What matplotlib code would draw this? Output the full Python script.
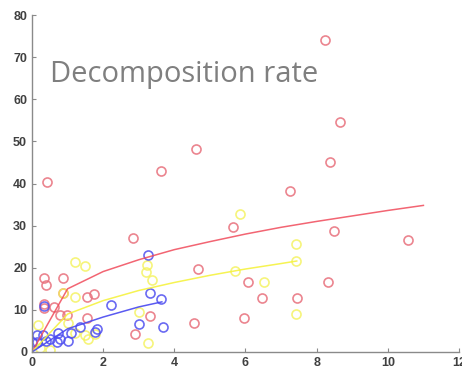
import matplotlib
matplotlib.use("Agg")
import matplotlib.pyplot as plt

# scatter data
red_x = [8.23, 8.65, 8.37, 7.25, 4.60, 3.62, 0.42, 2.84, 5.65, 8.48, 10.56, 4.67, 6.07, 8.31,
         6.46, 7.44, 5.96, 4.56, 3.31, 2.89, 0.34, 0.39, 0.86, 0.86, 0.34, 0.34, 0.62, 0.79,
         0.99, 1.55, 1.74, 1.55]
red_y = [74.1, 54.6, 45.1, 38.2, 48.2, 43.0, 40.4, 27.1, 29.7, 28.7, 26.6, 19.6, 16.6, 16.6,
         12.8, 12.8, 8.1, 7.0, 8.6, 4.3, 17.5, 15.9, 17.6, 13.9, 11.4, 10.4, 10.8, 8.8,
         8.8, 13.1, 13.7, 8.0]

yellow_x = [1.21, 1.49, 1.21, 0.18, 0.22, 0.50, 1.21, 1.49, 1.58, 0.86, 1.02, 3.22, 3.20,
            3.36, 3.01, 3.27, 5.84, 7.43, 7.43, 5.70, 6.53, 7.43, 1.77]
yellow_y = [21.3, 20.3, 13.1, 6.4, 0.9, 0.5, 4.4, 4.0, 3.2, 13.9, 7.0, 20.7, 19.1,
            17.1, 9.6, 2.2, 32.8, 25.6, 21.7, 19.2, 16.6, 9.0, 4.2]

blue_x = [0.01, 0.13, 0.32, 0.15, 0.38, 0.51, 0.69, 0.74, 0.79, 1.02, 1.11, 1.35, 1.77,
          1.82, 0.34, 3.27, 3.31, 3.62, 2.21, 3.00, 3.67]
blue_y = [2.3, 4.0, 4.0, 2.3, 2.6, 3.2, 2.3, 4.4, 3.2, 2.6, 4.4, 6.0, 4.7,
          5.5, 10.9, 23.0, 13.9, 12.5, 11.2, 6.6, 6.0]

# fitted curves
red_fit_x = [0, 1, 2, 3, 4, 5, 6, 7, 8, 9, 10, 11]
red_fit_y = [0, 15.0, 19.1, 21.9, 24.3, 26.2, 28.0, 29.6, 31.0, 32.3, 33.6, 34.8]
yellow_fit_x = [0, 1, 2, 3, 4, 5, 6, 7, 7.44]
yellow_fit_y = [0, 9.0, 12.2, 14.6, 16.5, 18.2, 19.7, 21.0, 21.6]
blue_fit_x = [0, 1, 2, 3, 3.65]
blue_fit_y = [0, 5.5, 8.3, 10.7, 11.9]

fig = plt.figure(figsize=(4.62, 3.76), dpi=100)
ax = fig.add_axes([32 / 462, 24 / 376, 427 / 462, 337 / 376])

mk = dict(marker="o", linestyle="none", markersize=6.5, markerfacecolor="none",
          markeredgewidth=1.2)
ax.plot(red_x, red_y, markeredgecolor="#e8707c", alpha=0.85, **mk)
ax.plot(yellow_x, yellow_y, markeredgecolor="#f4f25a", alpha=0.8, **mk)
ax.plot(blue_x, blue_y, markeredgecolor="#5050f0", alpha=0.85, **mk)

ax.plot(red_fit_x, red_fit_y, color="#f04a5a", lw=1.1, alpha=0.85)
ax.plot(yellow_fit_x, yellow_fit_y, color="#f5f240", lw=1.1, alpha=0.9)
ax.plot(blue_fit_x, blue_fit_y, color="#4848f0", lw=1.1, alpha=0.9)

ax.set_xlim(0, 12)
ax.set_ylim(0, 80)
ax.set_xticks(range(0, 13, 2))
ax.set_yticks(range(0, 81, 10))

for s in ["top", "right"]:
    ax.spines[s].set_visible(False)
for s in ["left", "bottom"]:
    ax.spines[s].set_color("#8a8a8a")
    ax.spines[s].set_linewidth(1.0)

ax.tick_params(direction="in", length=3, color="#8a8a8a", labelsize=9,
               labelcolor="#404040")
for lab in ax.get_xticklabels() + ax.get_yticklabels():
    lab.set_fontfamily("Liberation Sans")
    lab.set_fontweight("bold")

ax.text(50 / 462, 1 - 82 / 376, "Decomposition rate", transform=fig.transFigure,
        fontsize=21, color="#7f7f7f", family="Open Sans", va="baseline", ha="left")

fig.savefig("out.png", dpi=100)
